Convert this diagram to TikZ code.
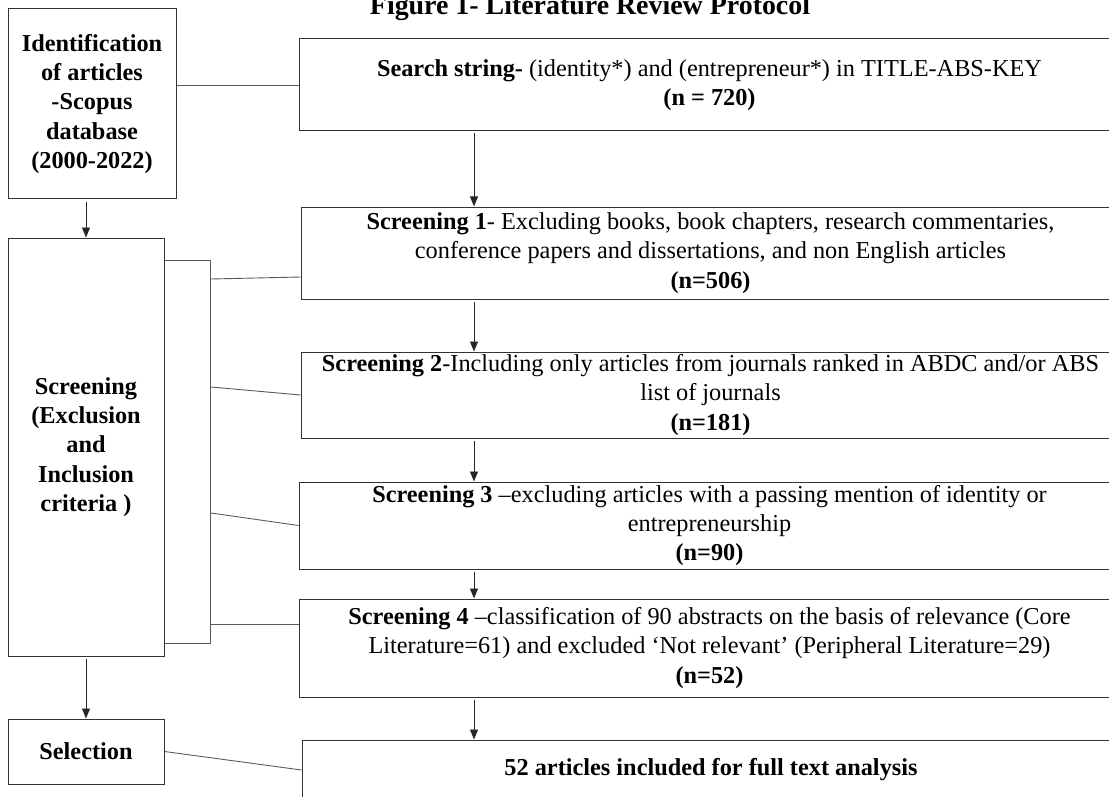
\documentclass[tikz,border=0pt]{standalone}
\usepackage{fontspec}
\setmainfont{Liberation Serif}
\usetikzlibrary{arrows.meta}

\begin{document}
\begin{tikzpicture}[x=1pt,y=-1pt,
  box/.style={shape=rectangle,draw=black!80,line width=1pt,inner sep=0pt,align=center,font=\fontsize{24.3}{29.3}\selectfont},
  sidebox/.style={box,font=\fontsize{24.3}{29.3}\selectfont\bfseries},
  link/.style={draw=black!65,line width=0.9pt},
  flow/.style={draw=black!85,line width=0.9pt,shorten <=2pt,-{Triangle[length=10pt,width=8pt]}}]
\path[use as bounding box] (0,0) rectangle (1109,797);
\clip (0,0) rectangle (1109,797);
% title
\node[anchor=base,font=\fontsize{27.9}{33}\selectfont\bfseries] (title) at (590,15) {Figure 1- Literature Review Protocol};
% left column
\node[sidebox,minimum width=168,minimum height=190] (ident) at (92,104) {Identification\\of articles\\-Scopus\\database\\(2000-2022)};
\node[sidebox,minimum width=156,minimum height=418] (screenL) at (86,447) {Screening\\(Exclusion\\and\\Inclusion\\criteria )};
\node[sidebox,minimum width=156,minimum height=65] (select) at (86,751.5) {Selection};
% right column
\node[box,minimum width=821,minimum height=92] (search) at (709.5,85) {\textbf{Search string-} (identity*) and (entrepreneur*) in TITLE-ABS-KEY\\\textbf{(n = 720)}};
\node[box,minimum width=819,minimum height=92] (scr1) at (710.5,253) {\textbf{Screening 1}- Excluding books, book chapters, research commentaries,\\conference papers and dissertations, and non English articles\\\textbf{(n=506)}};
\node[box,minimum width=819,minimum height=86] (scr2) at (710.5,395) {\textbf{Screening 2}-Including only articles from journals ranked in ABDC and/or ABS\\list of journals\\\textbf{(n=181)}};
\node[box,minimum width=821,minimum height=87] (scr3) at (709.5,525.5) {\textbf{Screening 3} –excluding articles with a passing mention of identity or\\entrepreneurship\\\textbf{(n=90)}};
\node[box,minimum width=821,minimum height=98] (scr4) at (709.5,648) {\textbf{Screening 4} –classification of 90 abstracts on the basis of relevance (Core\\Literature=61) and excluded ‘Not relevant’ (Peripheral Literature=29)\\\textbf{(n=52)}};
\node[box,minimum width=818,minimum height=60] (final) at (711,770) {\textbf{52 articles included for full text analysis}};
% bracket and branches
\coordinate (bt) at (210,260);
\coordinate (bb) at (210,643);
\coordinate (b1) at (211,279);
\coordinate (b2) at (211,387);
\coordinate (b3) at (211,513);
\coordinate (b4) at (211,624);
\coordinate (ax) at (474,0);
\draw[link] (screenL.east |- bt) -- (bt) -- (bb) -- (screenL.east |- bb);
\draw[link] (b1) -- (scr1.west |- 0,277);
\draw[link] (b2) -- (scr2.west);
\draw[link] (b3) -- (scr3.west);
\draw[link] (b4) -- (scr4.west |- b4);
\draw[link] (search.west -| ident.east) -- (search.west);
\draw[link] (select.east) -- (final.west);
% arrows
\draw[flow] (ident.south -| screenL) -- (screenL.north);
\draw[flow] (screenL.south) -- (select.north);
\draw[flow] (search.south -| ax) -- (scr1.north -| ax);
\draw[flow] (scr1.south -| ax) -- (scr2.north -| ax);
\draw[flow] (scr2.south -| ax) -- (scr3.north -| ax);
\draw[flow] (scr3.south -| ax) -- (scr4.north -| ax);
\draw[flow] (scr4.south -| ax) -- (final.north -| ax);
\end{tikzpicture}
\end{document}
